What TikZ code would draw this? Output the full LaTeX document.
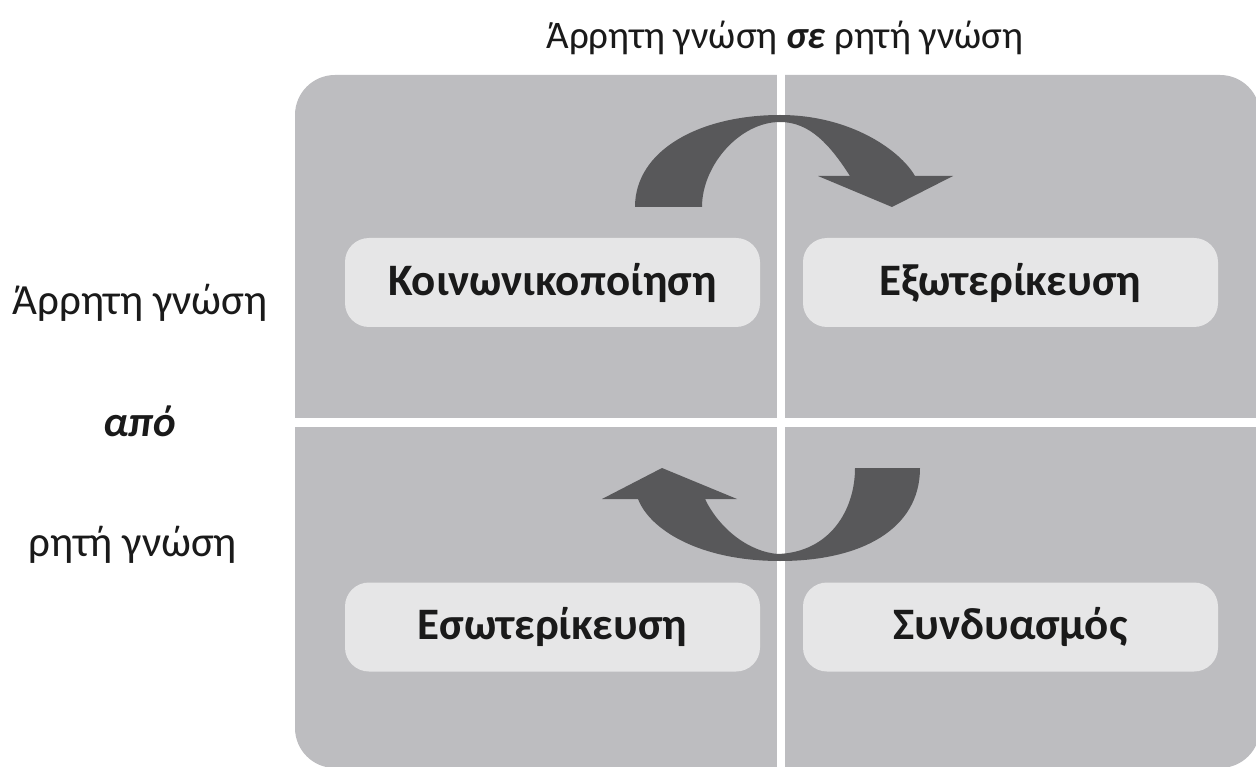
\documentclass[tikz,border=0pt]{standalone}
\usepackage{fontspec}
\setmainfont{Carlito}
\definecolor{panel}{HTML}{BDBDC0}
\definecolor{boxfill}{HTML}{E6E6E7}
\definecolor{arrowc}{HTML}{58585A}
\definecolor{txt}{HTML}{1A1A1A}
\begin{document}
\begin{tikzpicture}[x=1pt,y=-1pt,
  quad/.style={fill=boxfill, rounded corners=24pt, minimum width=415pt, minimum height=89pt, inner sep=0pt, font=\fontsize{45}{50}\selectfont\bfseries, text=txt},
  lbl/.style={font=\fontsize{39}{46}\selectfont, text=txt, inner sep=0pt},
  sidelbl/.style={font=\fontsize{43}{48}\selectfont, text=txt, inner sep=0pt},
  bigarrow/.style={fill=arrowc, draw=none}]
\useasboundingbox (0,0) rectangle (1256,767);
\fill[white] (0,0) rectangle (1256,767);
% panel
\fill[panel, rounded corners=40pt] (295,75) rectangle (1260,768);
% dividers
\fill[white] (777,60) rectangle (785,767);
\fill[white] (290,418) rectangle (1256,427);
% boxes
\node[quad] (k) at (552.5,282.5) {Κοινωνικοποίηση};
\node[quad] (e) at (1010.5,282.5) {Εξωτερίκευση};
\node[quad] (es) at (552.5,627) {Εσωτερίκευση};
\node[quad] (s) at (1010.5,627) {Συνδυασμός};
% top arrow
\fill[bigarrow] (635,207) .. controls (635,150) and (700,115) .. (780,115)
  .. controls (850,115) and (900,150) .. (915,176)
  -- (953,176) -- (892,207) -- (818,176) -- (850,176)
  .. controls (830,145) and (810,122) .. (780,122)
  .. controls (740,122) and (702,165) .. (702,207) -- cycle;
% bottom arrow
\fill[bigarrow] (920,468) .. controls (920,530) and (860,561) .. (780,561)
  .. controls (700,561) and (650,530) .. (638,499)
  -- (602,499) -- (662,468) -- (737,499) -- (705,499)
  .. controls (720,530) and (750,552) .. (778,554)
  .. controls (830,552) and (855,510) .. (855,468) -- cycle;
% labels
\node[lbl] (top) at (785,38) {Άρρητη γνώση \textbf{\textit{σε}} ρητή γνώση};
\node[sidelbl] (l1) at (140,303) {Άρρητη γνώση};
\node[sidelbl] (l2) at (140,421) {\textbf{\textit{από}}};
\node[sidelbl] (l3) at (133,545) {ρητή γνώση};
\end{tikzpicture}
\end{document}
